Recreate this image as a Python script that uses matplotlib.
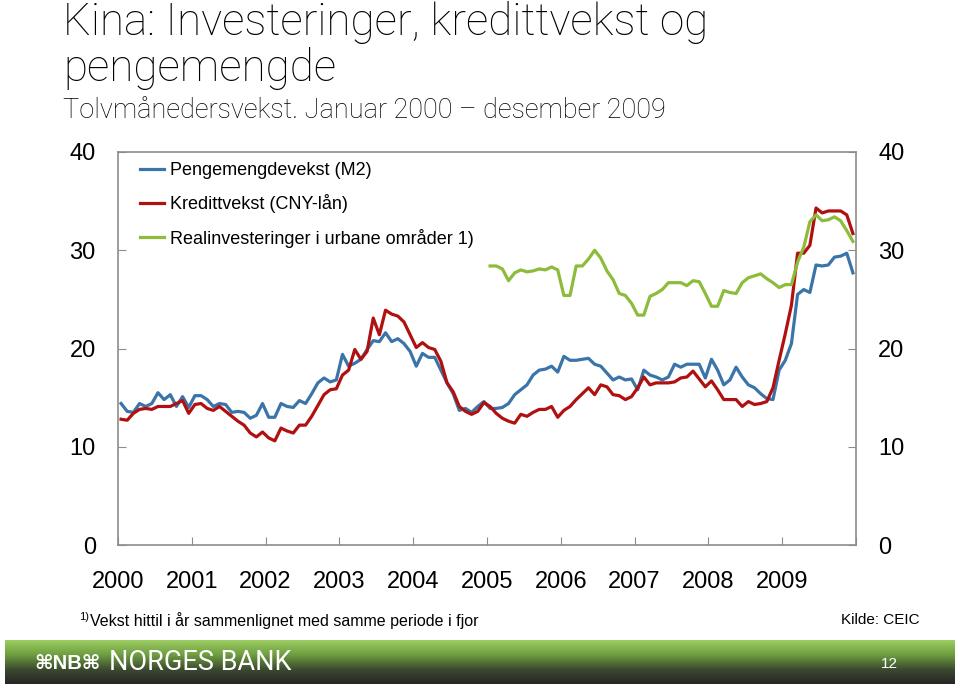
import numpy as np
import matplotlib.pyplot as plt
from matplotlib.colors import LinearSegmentedColormap

plt.rcParams['font.family'] = ['Liberation Sans', 'DejaVu Sans']

# tolvmånedersvekst, månedlig jan 2000 - des 2009
aar = ['2000', '2001', '2002', '2003', '2004', '2005', '2006', '2007', '2008', '2009']

m2 = [14.4, 13.6, 13.5, 14.4, 14.1, 14.4, 15.5, 14.8, 15.3, 14.1, 15.1, 14.0,
      15.2, 15.2, 14.8, 14.1, 14.4, 14.3, 13.5, 13.6, 13.5, 12.9, 13.2, 14.4,
      13.0, 13.0, 14.4, 14.1, 14.0, 14.7, 14.4, 15.4, 16.5, 17.0, 16.6, 16.8,
      19.4, 18.2, 18.5, 18.9, 19.9, 20.8, 20.7, 21.6, 20.7, 21.0, 20.5, 19.7,
      18.2, 19.5, 19.1, 19.1, 17.8, 16.5, 15.4, 13.7, 13.9, 13.5, 14.1, 14.6,
      13.9, 13.9, 14.0, 14.4, 15.3, 15.8, 16.3, 17.3, 17.8, 17.9, 18.2, 17.6,
      19.2, 18.8, 18.8, 18.9, 19.0, 18.4, 18.2, 17.5, 16.8, 17.1, 16.8, 16.9,
      15.8, 17.8, 17.3, 17.1, 16.8, 17.1, 18.4, 18.1, 18.4, 18.4, 18.4, 17.0,
      18.9, 17.8, 16.3, 16.8, 18.1, 17.1, 16.3, 16.0, 15.4, 14.9, 14.8, 17.8,
      18.8, 20.5, 25.5, 26.0, 25.7, 28.5, 28.4, 28.5, 29.3, 29.4, 29.7, 27.7]

kreditt = [12.8, 12.7, 13.4, 13.8, 13.9, 13.8, 14.1, 14.1, 14.1, 14.4, 14.7, 13.4,
           14.3, 14.4, 13.9, 13.7, 14.1, 13.6, 13.1, 12.6, 12.2, 11.4, 11.0, 11.5,
           10.9, 10.6, 11.9, 11.6, 11.4, 12.2, 12.2, 13.1, 14.2, 15.3, 15.8, 15.9,
           17.3, 17.8, 19.9, 18.9, 19.7, 23.1, 21.4, 23.9, 23.5, 23.3, 22.7, 21.4,
           20.1, 20.6, 20.1, 19.9, 18.7, 16.5, 15.6, 14.1, 13.6, 13.3, 13.6, 14.5,
           14.1, 13.4, 12.9, 12.6, 12.4, 13.3, 13.1, 13.5, 13.8, 13.8, 14.1, 13.0,
           13.7, 14.1, 14.8, 15.4, 16.0, 15.3, 16.3, 16.1, 15.3, 15.2, 14.8, 15.1,
           16.0, 17.1, 16.3, 16.5, 16.5, 16.5, 16.6, 17.0, 17.1, 17.7, 16.9, 16.1,
           16.7, 15.8, 14.8, 14.8, 14.8, 14.1, 14.6, 14.3, 14.4, 14.6, 16.0, 18.8,
           21.5, 24.4, 29.7, 29.7, 30.5, 34.3, 33.8, 34.0, 34.0, 34.0, 33.6, 31.7]

# realinvesteringer i urbane områder, fra jan 2005
invest = [28.4, 28.4, 28.1, 26.9, 27.7, 28.0, 27.8, 27.9, 28.1, 28.0, 28.3, 28.0,
          25.4, 25.4, 28.4, 28.4, 29.1, 30.0, 29.2, 27.9, 27.0, 25.6, 25.4, 24.6,
          23.4, 23.4, 25.3, 25.6, 26.0, 26.7, 26.7, 26.7, 26.4, 26.9, 26.8, 25.6,
          24.3, 24.3, 25.9, 25.7, 25.6, 26.7, 27.2, 27.4, 27.6, 27.1, 26.7, 26.2,
          26.5, 26.5, 28.8, 30.3, 32.9, 33.6, 33.0, 33.1, 33.4, 33.0, 32.0, 30.9]

x = np.arange(len(m2)) + 0.5
x_inv = np.arange(len(m2) - len(invest), len(m2)) + 0.5

fig = plt.figure(figsize=(9.59, 6.85), dpi=100)
ax = fig.add_axes([118/959, 140/685, 738/959, 393/685])

ax.plot(x, m2, color='#3a74a8', lw=2.3, label='Pengemengdevekst (M2)')
ax.plot(x, kreditt, color='#b01010', lw=2.3, label='Kredittvekst (CNY-lån)')
ax.plot(x_inv, invest, color='#8dbb3a', lw=2.3, label='Realinvesteringer i urbane områder 1)')

ax.set_xlim(0, 120)
ax.set_ylim(0, 40)
ax.set_yticks([0, 10, 20, 30, 40])
ax.set_xticks(np.arange(0, 121, 12))
ax.set_xticklabels(aar + [''])

for s in ax.spines.values():
    s.set_color('#8c8c8c')
    s.set_linewidth(1.2)

ax.tick_params(axis='y', direction='in', length=6, color='#8c8c8c', labelsize=17,
               right=True, labelright=True, pad=16)
ax.tick_params(axis='x', direction='in', length=6, color='#8c8c8c', labelsize=17, pad=19)

ax.legend(loc='upper left', bbox_to_anchor=(140/959, 1 - 162/685), bbox_transform=fig.transFigure,
          frameon=False, fontsize=13, handlelength=1.35, handletextpad=0.3,
          labelspacing=0.85, borderpad=0, borderaxespad=0)

# titler
tfont = ['Roboto', 'Liberation Sans', 'DejaVu Sans']
fig.text(63/959, 1 - 35/685, 'Kina: Investeringer, kredittvekst og', fontsize=31.7,
         va='baseline', family=tfont, fontweight='light')
fig.text(63/959, 1 - 81/685, 'pengemengde', fontsize=31.7, va='baseline', family=tfont, fontweight='light')
fig.text(63/959, 1 - 118/685, 'Tolvmånedersvekst. Januar 2000 – desember 2009', fontsize=19.5,
         va='baseline', family=tfont, fontweight='light')

# fotnote og kilde
fig.text(79/959, 1 - 620/685, '1)', fontsize=8, va='baseline')
fig.text(90/959, 1 - 626/685, 'Vekst hittil i år sammenlignet med samme periode i fjor', fontsize=11.5, va='baseline')
fig.text(920/959, 1 - 624/685, 'Kilde: CEIC', fontsize=11, va='baseline', ha='right')

# bunnlinje Norges Bank
cmap = LinearSegmentedColormap.from_list('bunn', ['#9ccd62', '#6e9e40', '#3c4a30', '#262626'])
bax = fig.add_axes([5/959, 1/685, 950/959, 44/685])
bax.imshow(np.linspace(0, 1, 100).reshape(-1, 1), aspect='auto', cmap=cmap, extent=[0, 1, 0, 1])
bax.axis('off')
fig.text(34/959, 1 - 669/685, '\u2318NB\u2318', fontsize=14.5, color='white', va='baseline', fontweight='bold')
fig.text(109/959, 1 - 670/685, 'NORGES BANK', fontsize=19.5, color='white', va='baseline', family=tfont)
fig.text(898/959, 1 - 668/685, '12', fontsize=11, color='white', va='baseline', ha='right')

fig.savefig('out.png', dpi=100)
